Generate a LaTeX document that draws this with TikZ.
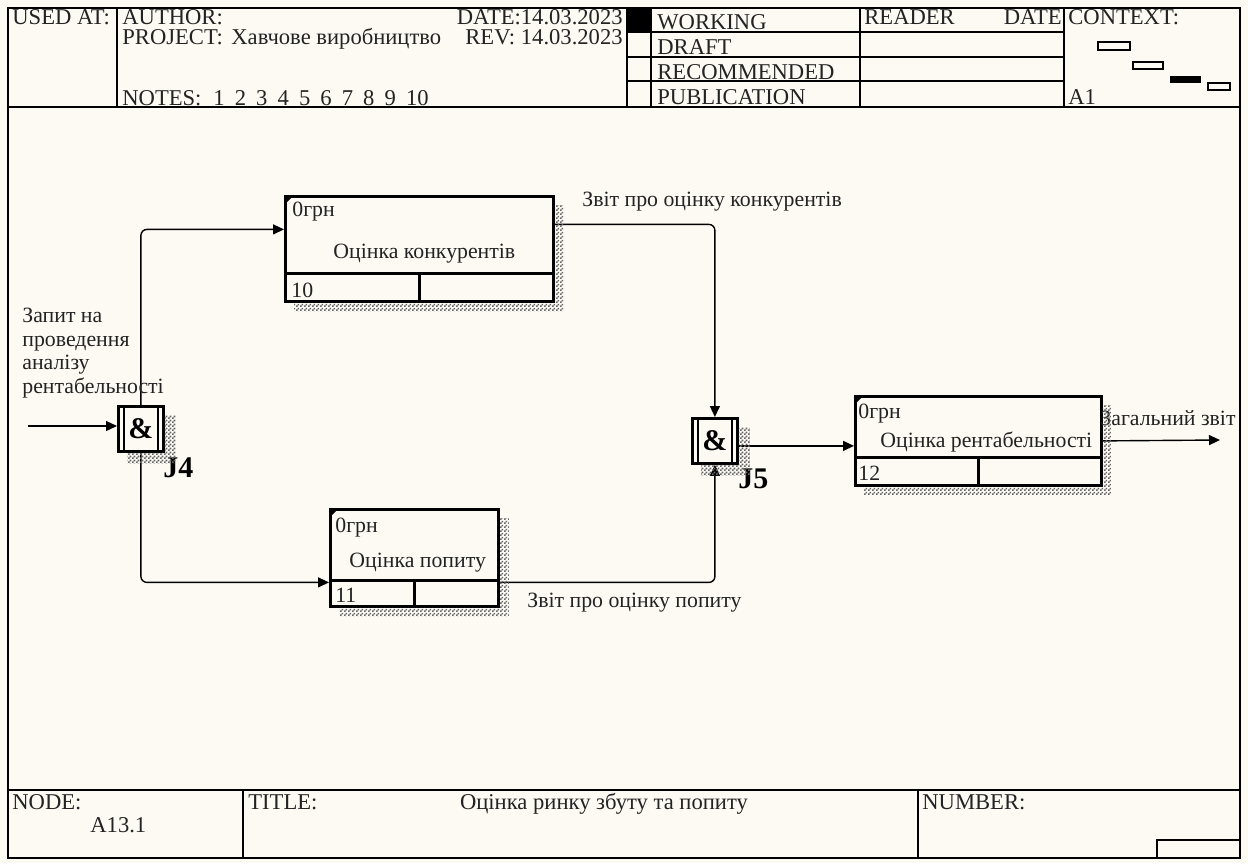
\documentclass[tikz,border=0pt]{standalone}
\usepackage{fontspec}
\setmainfont{Liberation Serif}
\usepackage{tikz}
\usetikzlibrary{arrows.meta, positioning, calc, patterns}

\definecolor{paper}{RGB}{253,250,243}
\definecolor{ink}{RGB}{35,35,35}

% fine checker used for the drop shadows
\pgfdeclarepatternformonly{fineshade}{\pgfpointorigin}{\pgfpoint{2pt}{2pt}}{\pgfpoint{2pt}{2pt}}{%
  \pgfpathrectangle{\pgfpointorigin}{\pgfpoint{1pt}{1pt}}%
  \pgfpathrectangle{\pgfpoint{1pt}{1pt}}{\pgfpoint{1pt}{1pt}}%
  \pgfusepath{fill}}

\begin{document}
\begin{tikzpicture}[
    x=0.5pt, y=-0.5pt,
    font=\fontsize{10.9}{11.7}\selectfont,
    % Styles
    actbox/.style={rectangle, draw=black, line width=1.4pt, fill=paper, inner sep=0pt, anchor=north west},
    junct/.style={rectangle, draw=black, line width=1.4pt, fill=paper, inner sep=0pt, anchor=north west, minimum width=22.5pt, minimum height=22.5pt, font=\fontsize{15}{15}\selectfont\bfseries},
    jname/.style={anchor=base west, inner sep=0pt, font=\fontsize{15}{15}\selectfont\bfseries},
    txt/.style={anchor=base west, inner sep=0pt, text=ink},
    hdr/.style={txt, font=\fontsize{11.3}{12}\selectfont},
    divline/.style={line width=1.4pt},
    jline/.style={line width=1pt},
    gridline/.style={line width=0.8pt},
    flow/.style={line width=0.7pt, rounded corners=3pt, -{Triangle[length=5.5pt, width=5pt]}},
    shadowfill/.style={pattern=fineshade, pattern color=black!60},
]

\fill[paper] (0,0) rectangle (1248,863);
\useasboundingbox (0,0) rectangle (1248,863);

% === HEADER ===
\draw[gridline] (8,8) rectangle (1240,858);
\draw[gridline] (8,107) -- (1240,107);
\draw[gridline] (117,8) -- (117,107) (627,8) -- (627,107) (651,8) -- (651,107) (860,8) -- (860,107) (1064,8) -- (1064,107);
\draw[gridline] (627,32) -- (1064,32) (627,57) -- (1064,57) (627,81) -- (1064,81);
\fill (627,8) rectangle (651,32);

\node[hdr] (usedat) at (12,24) {USED AT:};
\node[hdr] (author) at (122,24) {AUTHOR:};
\node[hdr] (project) at (122,44) {PROJECT:};
\node[hdr] (projname) at (231,44) {Хавчове виробництво};
\node[hdr] (notes) at (122,105) {NOTES:};
\foreach \n in {1,...,10}
  \node[hdr] (note\n) at (213+21.4*\n-21.4,105) {\n};
\node[hdr, anchor=base east] (date) at (623,24) {DATE:14.03.2023};
\node[hdr] (rev) at (465,44) {REV:};
\node[hdr, anchor=base east] (revdate) at (623,44) {14.03.2023};

\node[hdr] (working) at (657,29) {WORKING};
\node[hdr] (draft) at (657,54) {DRAFT};
\node[hdr] (recom) at (657,79) {RECOMMENDED};
\node[hdr] (public) at (657,104) {PUBLICATION};
\node[hdr] (reader) at (864,24) {READER};
\node[hdr, anchor=base east] (rdate) at (1062,24) {DATE};
\node[hdr] (context) at (1068,24) {CONTEXT:};
\node[hdr] (ctxnode) at (1068,104) {A1};

% context thumbnails
\draw[line width=0.6pt] (1098,42) rectangle (1130,50) (1133,62) rectangle (1163,69) (1208,83) rectangle (1230,90);
\fill (1170,76) rectangle (1201,83);

% === FOOTER ===
\draw[gridline] (8,790) -- (1240,790) (243,790) -- (243,858) (918,790) -- (918,858);
\draw[gridline] (1157,858) |- (1240,840);
\node[hdr] (nodelbl) at (12,809) {NODE:};
\node[hdr] (nodenum) at (90,832) {A13.1};
\node[hdr] (titlelbl) at (248,809) {TITLE:};
\node[hdr, anchor=base] (title) at (604,809) {Оцінка ринку збуту та попиту};
\node[hdr] (numberlbl) at (922,809) {NUMBER:};

% === ACTIVITIES ===
\node[actbox, minimum width=134pt, minimum height=52.5pt] (kon) at (284,195) {};
\node[actbox, minimum width=84pt, minimum height=48.5pt] (pop) at (329,508) {};
\node[actbox, minimum width=123pt, minimum height=44.5pt] (ren) at (854,395) {};

% cost / number rows
\draw[divline] ($(kon.south west)+(0,-29)$) -- ($(kon.south east)+(0,-29)$) (kon.south) -- ($(kon.south)+(0,-29)$);
\draw[divline] ($(pop.south west)+(0,-27)$) -- ($(pop.south east)+(0,-27)$) (pop.south) -- ($(pop.south)+(0,-27)$);
\draw[divline] ($(ren.south west)+(0,-29)$) -- ($(ren.south east)+(0,-29)$) (ren.south) -- ($(ren.south)+(0,-29)$);
\foreach \b in {kon,pop,ren}
  \fill ($(\b.north west)+(1,1)$) -- ++(8,0) -- ++(-8,8) -- cycle;

\node[txt] (koncost) at (292,216) {0грн};
\node[txt] (konname) at (333,258) {Оцінка конкурентів};
\node[txt] (konnum) at (291,297) {10};
\node[txt] (popcost) at (335,532) {0грн};
\node[txt] (popname) at (349,567) {Оцінка попиту};
\node[txt] (popnum) at (335,602) {11};
\node[txt] (rencost) at (858,418) {0грн};
\node[txt] (renname) at (880,447) {Оцінка рентабельності};
\node[txt] (rennum) at (858,480) {12};

% === JUNCTIONS ===
\node[junct] (j4) at (117,405) {\&};
\node[junct] (j5) at (691,417) {\&};
\foreach \j in {j4,j5}
  \draw[jline] ($(\j.north west)+(7,1)$) -- ($(\j.south west)+(7,-1)$) ($(\j.north east)+(-7,1)$) -- ($(\j.south east)+(-7,-1)$);
\node[jname] (j4lbl) at (163,477) {J4};
\node[jname] (j5lbl) at (738,488) {J5};

% === ARROWS ===
\coordinate (inp) at (28,426);
\coordinate (j5out) at ($(j5.east)+(0,5)$);
\coordinate (outp) at (1220,440);
\draw[flow] (inp) -- (inp -| j4.west);
\draw[flow] (j4.north) |- ($(kon.west)+(0,-19.5)$);
\draw[flow] (j4.south) |- ($(pop.west)+(0,24.5)$);
\draw[flow] ($(kon.east)+(0,-24.5)$) -| (j5.north);
\draw[flow] ($(pop.east)+(0,24.5)$) -| (j5.south);
\draw[flow] (j5out) -- (j5out -| ren.west);
\draw[flow] (ren.east) -- (outp);

% arrow labels
\node[txt, align=left, anchor=north west] (request) at (22,308) {Запит на\\проведення\\аналізу\\рентабельності};
\node[txt] (konreport) at (582,206) {Звіт про оцінку конкурентів};
\node[txt] (popreport) at (527,607) {Звіт про оцінку попиту};
\node[txt] (report) at (1100,425) {Загальний звіт};

% drop shadows
\foreach \b/\d in {kon/9,pop/9,ren/8,j4/11,j5/11}
  \fill[shadowfill] ($(\b.north east)+(0,10)$) -- ($(\b.north east)+(\d,10)$) -- ($(\b.south east)+(\d,\d)$) -- ($(\b.south west)+(10,\d)$) -- ($(\b.south west)+(10,0)$) -- (\b.south east) -- cycle;

\end{tikzpicture}
\end{document}
